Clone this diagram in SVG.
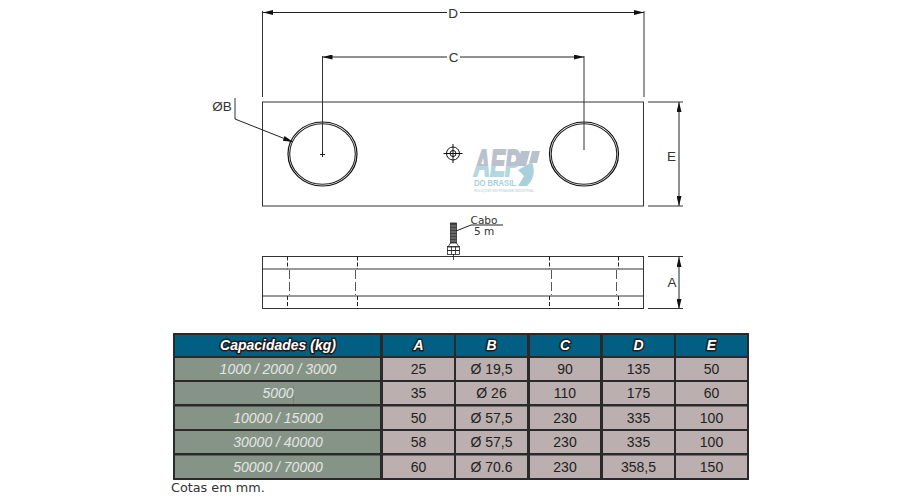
<svg xmlns="http://www.w3.org/2000/svg" width="900" height="501" viewBox="0 0 900 501">
<style>
.l{fill:none;stroke:#333;stroke-width:1}
.t{fill:none;stroke:#222;stroke-width:1}
.dash{fill:none;stroke:#222;stroke-width:1;stroke-dasharray:9 3}
.dim{font:13.5px "Liberation Sans",sans-serif;fill:#333;text-anchor:middle}
.sm{font:10.5px "DejaVu Sans",sans-serif;fill:#333;text-anchor:middle}
.hd{font:italic bold 14px "Liberation Sans",sans-serif;fill:#fff;stroke:#1c1c1c;stroke-width:3;paint-order:stroke;stroke-linejoin:round;text-anchor:middle}
.cap{font:italic 14px "Liberation Sans",sans-serif;fill:#e4e6e2;text-anchor:middle}
.c{font:14px "Liberation Sans",sans-serif;fill:#222;text-anchor:middle}
.g{fill:#869488}.b{fill:#bcafaf}.h{fill:#005f82}
.ro{fill:none;stroke:#111;stroke-width:1.2}.ri{fill:none;stroke:#222;stroke-width:1.1}
</style>
<defs>
<marker id="a" markerWidth="10" markerHeight="5" refX="10" refY="2.5" orient="auto-start-reverse" markerUnits="userSpaceOnUse"><path d="M0 0L10 2.500L0 5Z" fill="#111"/></marker>
<linearGradient id="lg" x1="0" y1="0" x2="0" y2="1"><stop offset=".55" stop-color="#b9c1cd"/><stop offset=".55" stop-color="#b3d6df"/></linearGradient>
</defs>
<rect width="900" height="501" fill="#fff"/>
<g id="logo">
<text x="474" y="176" font-family="Liberation Sans,sans-serif" font-weight="bold" font-style="italic" font-size="36" fill="url(#lg)" stroke="url(#lg)" stroke-width="1.800" textLength="46" lengthAdjust="spacingAndGlyphs">AEP</text>
<path d="M521 151H530L526 166H517ZM532 151H540L537 163H529Z" fill="#b9c1cd"/>
<path d="M518 170L532 162C536 172 533 180 527 186H518L524 176Z" fill="#a9d0dc"/>
<text x="474" y="186" font-family="Liberation Sans,sans-serif" font-weight="bold" font-size="9.500" fill="#a9cfdc" textLength="42" lengthAdjust="spacingAndGlyphs">DO BRASIL</text>
<text x="474" y="191.500" font-family="Liberation Sans,sans-serif" font-weight="bold" font-size="3.200" fill="#c5dce4" textLength="60" lengthAdjust="spacingAndGlyphs">SOLUÇÕES EM PESAGEM INDUSTRIAL</text>
</g>
<g id="top-plate">
<rect class="l" x="262.500" y="102" width="381" height="104"/>
<ellipse class="ro" cx="322.500" cy="154" rx="34.500" ry="32"/>
<ellipse class="ri" cx="322.500" cy="154" rx="32.800" ry="30.300"/>
<ellipse class="ro" cx="584" cy="154" rx="34.500" ry="32"/>
<ellipse class="ri" cx="584" cy="154" rx="32.800" ry="30.300"/>
<path class="t" d="M320 154.500H325M322.500 152V157"/>
<g id="center-mark" fill="none" stroke="#111">
<circle cx="453" cy="153.500" r="6.500"/><circle cx="453" cy="153.500" r="3"/>
<path d="M443.500 153.500H462.500M453 144V163"/>
</g>
</g>
<g id="connectors">
<path class="l" d="M262.500 11V97M644 11V97M322.500 56V152M584 56V150M648 102H683M648 206H683M235 98V119"/>
<path class="t" d="M447 12.500H263" marker-end="url(#a)"/>
<path class="t" d="M460 12.500H644" marker-end="url(#a)"/>
<path class="t" d="M447 57H322.500" marker-end="url(#a)"/>
<path class="t" d="M460 57H584" marker-end="url(#a)"/>
<path class="t" d="M679 102V206" marker-start="url(#a)" marker-end="url(#a)"/>
<path class="t" d="M679 257V309" marker-start="url(#a)" marker-end="url(#a)"/>
<path class="l" d="M648 256.500H683M648 308.500H683"/>
<path class="t" d="M235 119L293 142" marker-end="url(#a)"/>
<path class="t" d="M456 231L471 225H503"/>
</g>
<g id="labels">
<text class="dim" x="453" y="17.500">D</text>
<text class="dim" x="453.500" y="61.500">C</text>
<text class="dim" x="222" y="111">ØB</text>
<text class="dim" x="671.500" y="161">E</text>
<text class="dim" x="672" y="287">A</text>
<text class="sm" x="484" y="224">Cabo</text>
<text class="sm" x="484" y="235">5 m</text>
</g>
<g id="side-view">
<rect class="l" x="262.500" y="256.500" width="381" height="52"/>
<path class="l" d="M262.500 269H643.500M262.500 296H643.500"/>
<path class="t" d="M287.500 256.500V269M357.500 256.500V269M549.500 256.500V269M618.500 256.500V269M287.500 296V308.500M357.500 296V308.500M549.500 296V308.500M618.500 296V308.500" stroke-dasharray="4 2"/>
<path class="dash" stroke-opacity=".75" d="M289.500 270V295M355.500 270V295M551.500 270V295M616.500 270V295"/>
<g id="cable" fill="none" stroke="#222" stroke-width=".8">
<rect x="450.500" y="223" width="6" height="20" fill="#444"/>
<path stroke="#999" d="M450.500 226H456.500M450.500 229H456.500M450.500 232H456.500M450.500 235H456.500M450.500 238H456.500M450.500 241H456.500"/>
<path d="M450.500 243L448 247H459L456.500 243"/>
<rect x="447.500" y="246.500" width="12" height="4"/>
<rect x="447.500" y="250.500" width="12" height="4"/>
<path d="M451.500 246.500V254.500M455.500 246.500V254.500M453.500 254V260"/>
</g>
</g>
<g id="table">
<rect x="173" y="333" width="576" height="147" fill="#2a2a2a"/>
<g id="cells">
<rect class="h" x="175" y="335" width="205" height="21"/><rect class="h" x="383" y="335" width="71" height="21"/><rect class="h" x="456" y="335" width="71" height="21"/><rect class="h" x="530" y="335" width="70" height="21"/><rect class="h" x="603" y="335" width="71" height="21"/><rect class="h" x="676" y="335" width="71" height="21"/>
<rect class="g" x="175" y="358" width="205" height="22"/><rect class="b" x="383" y="358" width="71" height="22"/><rect class="b" x="456" y="358" width="71" height="22"/><rect class="b" x="530" y="358" width="70" height="22"/><rect class="b" x="603" y="358" width="71" height="22"/><rect class="b" x="676" y="358" width="71" height="22"/>
<rect class="g" x="175" y="382" width="205" height="22"/><rect class="b" x="383" y="382" width="71" height="22"/><rect class="b" x="456" y="382" width="71" height="22"/><rect class="b" x="530" y="382" width="70" height="22"/><rect class="b" x="603" y="382" width="71" height="22"/><rect class="b" x="676" y="382" width="71" height="22"/>
<rect class="g" x="175" y="406.500" width="205" height="22.500"/><rect class="b" x="383" y="406.500" width="71" height="22.500"/><rect class="b" x="456" y="406.500" width="71" height="22.500"/><rect class="b" x="530" y="406.500" width="70" height="22.500"/><rect class="b" x="603" y="406.500" width="71" height="22.500"/><rect class="b" x="676" y="406.500" width="71" height="22.500"/>
<rect class="g" x="175" y="431" width="205" height="22"/><rect class="b" x="383" y="431" width="71" height="22"/><rect class="b" x="456" y="431" width="71" height="22"/><rect class="b" x="530" y="431" width="70" height="22"/><rect class="b" x="603" y="431" width="71" height="22"/><rect class="b" x="676" y="431" width="71" height="22"/>
<rect class="g" x="175" y="455.500" width="205" height="22.500"/><rect class="b" x="383" y="455.500" width="71" height="22.500"/><rect class="b" x="456" y="455.500" width="71" height="22.500"/><rect class="b" x="530" y="455.500" width="70" height="22.500"/><rect class="b" x="603" y="455.500" width="71" height="22.500"/><rect class="b" x="676" y="455.500" width="71" height="22.500"/>
</g>
<path d="M293.500 386V404" stroke="#777" stroke-width=".7"/>
<text class="hd" x="278" y="350">Capacidades (kg)</text><text class="hd" x="418.500" y="350">A</text><text class="hd" x="491.500" y="350">B</text><text class="hd" x="565" y="350">C</text><text class="hd" x="638.500" y="350">D</text><text class="hd" x="711.500" y="350">E</text>
<text class="cap" x="278" y="374">1000 / 2000 / 3000</text><text class="c" x="418.500" y="374">25</text><text class="c" x="491.500" y="374">Ø 19,5</text><text class="c" x="565" y="374">90</text><text class="c" x="638.500" y="374">135</text><text class="c" x="711.500" y="374">50</text>
<text class="cap" x="278" y="398">5000</text><text class="c" x="418.500" y="398">35</text><text class="c" x="491.500" y="398">Ø 26</text><text class="c" x="565" y="398">110</text><text class="c" x="638.500" y="398">175</text><text class="c" x="711.500" y="398">60</text>
<text class="cap" x="278" y="423">10000 / 15000</text><text class="c" x="418.500" y="423">50</text><text class="c" x="491.500" y="423">Ø 57,5</text><text class="c" x="565" y="423">230</text><text class="c" x="638.500" y="423">335</text><text class="c" x="711.500" y="423">100</text>
<text class="cap" x="278" y="447">30000 / 40000</text><text class="c" x="418.500" y="447">58</text><text class="c" x="491.500" y="447">Ø 57,5</text><text class="c" x="565" y="447">230</text><text class="c" x="638.500" y="447">335</text><text class="c" x="711.500" y="447">100</text>
<text class="cap" x="278" y="472">50000 / 70000</text><text class="c" x="418.500" y="472">60</text><text class="c" x="491.500" y="472">Ø 70.6</text><text class="c" x="565" y="472">230</text><text class="c" x="638.500" y="472">358,5</text><text class="c" x="711.500" y="472">150</text>
</g>
<text x="171" y="492" font-family="DejaVu Sans,sans-serif" font-size="12.800" fill="#333">Cotas em mm.</text>
</svg>
